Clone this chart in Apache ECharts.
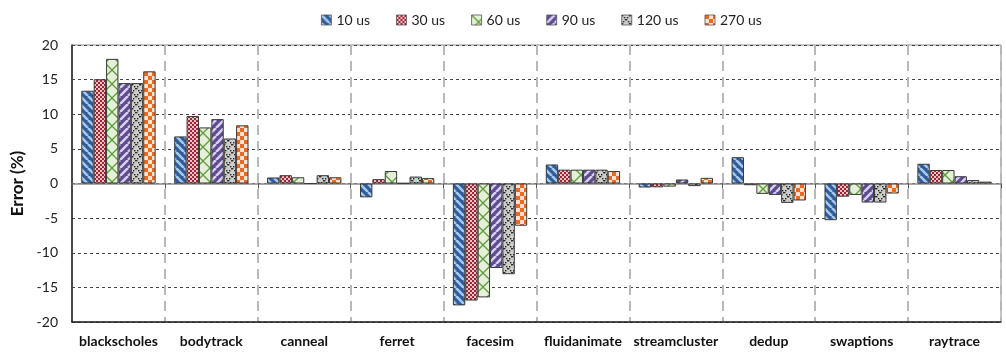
<!DOCTYPE html>
<html>
<head>
<meta charset="utf-8">
<script src="https://cdn.jsdelivr.net/npm/echarts@6/dist/echarts.min.js"></script>
<style>
  html, body { margin: 0; padding: 0; background: #fff; }
  #chart { width: 1006px; height: 352px; }
</style>
</head>
<body>
<div id="chart"></div>
<script>
// Benchmarks on the x axis
const categories = ['blackscholes', 'bodytrack', 'canneal', 'ferret', 'facesim',
  'fluidanimate', 'streamcluster', 'dedup', 'swaptions', 'raytrace'];

// Error (%) per sampling interval
const err10us  = [13.4, 6.8, 0.87, -2.0, -17.6, 2.75, -0.58, 3.8, -5.3, 2.85];
const err30us  = [15.05, 9.75, 1.2, 0.63, -16.9, 2.0, -0.55, -0.25, -1.9, 1.95];
const err60us  = [18.0, 8.1, 0.9, 1.8, -16.45, 2.0, -0.45, -1.5, -1.65, 1.95];
const err90us  = [14.5, 9.3, 0.0, 0.05, -12.2, 2.0, 0.58, -1.65, -2.75, 1.05];
const err120us = [14.5, 6.5, 1.2, 1.0, -13.1, 2.0, -0.38, -2.8, -2.75, 0.5];
const err270us = [16.2, 8.4, 0.9, 0.78, -6.1, 1.8, 0.82, -2.45, -1.45, 0.27];

const seriesNames = ['10 us', '30 us', '60 us', '90 us', '120 us', '270 us'];
const seriesData = [err10us, err30us, err60us, err90us, err120us, err270us];

// Y axis range
const yMin = -20, yMax = 20, yStep = 5;

// Fill patterns for each series, drawn on small tiles
function tile(size, draw) {
  const c = document.createElement('canvas');
  c.width = size; c.height = size;
  const ctx = c.getContext('2d');
  draw(ctx, size);
  return { image: c, repeat: 'repeat' };
}
function stripes(bg, fg, dir) {
  return tile(8, (ctx, s) => {
    ctx.fillStyle = bg; ctx.fillRect(0, 0, s, s);
    ctx.strokeStyle = fg; ctx.lineWidth = 2.6;
    for (let k = -1; k <= 1; k++) {
      ctx.beginPath();
      if (dir > 0) { ctx.moveTo(k * s, s); ctx.lineTo(k * s + s, 0); }
      else { ctx.moveTo(k * s, 0); ctx.lineTo(k * s + s, s); }
      ctx.stroke();
    }
  });
}
function checker(a, b, cell) {
  return tile(cell * 2, (ctx, s) => {
    ctx.fillStyle = a; ctx.fillRect(0, 0, s, s);
    ctx.fillStyle = b;
    ctx.fillRect(0, 0, cell, cell);
    ctx.fillRect(cell, cell, cell, cell);
  });
}
const patterns = [
  stripes('#2f5d9c', '#a9c8ea', -1),
  tile(4, (ctx, s) => {
    ctx.fillStyle = '#f0c2c6'; ctx.fillRect(0, 0, s, s);
    ctx.fillStyle = '#982834';
    ctx.fillRect(0, 0, 2, 2);
    ctx.fillRect(2, 2, 2, 2);
  }),
  tile(14, (ctx, s) => {
    ctx.fillStyle = '#e4f0d8'; ctx.fillRect(0, 0, s, s);
    ctx.strokeStyle = '#5f9a3c'; ctx.lineWidth = 1.3;
    ctx.beginPath();
    ctx.moveTo(0, 0); ctx.lineTo(s, s);
    ctx.moveTo(0, s); ctx.lineTo(s, 0);
    ctx.stroke();
  }),
  stripes('#5c4b8f', '#d8cfee', 1),
  tile(8, (ctx, s) => {
    ctx.fillStyle = '#cdcdcd'; ctx.fillRect(0, 0, s, s);
    ctx.fillStyle = '#2b2b1e';
    for (let i = 0; i < s; i += 2) {
      ctx.fillRect(i, i, 1.4, 1.4);
      ctx.fillRect(s - 1 - i, i, 1.4, 1.4);
    }
  }),
  checker('#fde3cf', '#ea6a23', 4)
];

const chart = echarts.init(document.getElementById('chart'), null, { renderer: 'canvas' });

const font = 'Lato, "Open Sans", sans-serif';

chart.setOption({
  animation: false,
  textStyle: { fontFamily: font },
  legend: {
    data: seriesNames,
    top: 8,
    left: 316,
    icon: 'rect',
    itemWidth: 10,
    itemHeight: 10,
    itemGap: 26,
    textStyle: { fontSize: 14, color: '#222', fontFamily: font },
    itemStyle: { borderColor: '#555', borderWidth: 0.8 }
  },
  grid: {
    left: 72, right: 5, top: 45, bottom: 30,
    show: true, borderColor: '#8a8a8a', borderWidth: 1,
    containLabel: false
  },
  xAxis: [
    {
      type: 'category',
      data: categories,
      position: 'bottom',
      axisLine: { onZero: false, lineStyle: { color: '#222', width: 1.5 } },
      axisTick: { show: false },
      axisLabel: { fontSize: 14, fontWeight: 'bold', color: '#111', margin: 12, fontFamily: font, interval: 0 },
      splitLine: { show: true, lineStyle: { color: '#b8b8b8', width: 2, type: [10, 6] } }
    },
    {
      type: 'category',
      data: categories,
      position: 'top',
      axisLine: { onZero: true, lineStyle: { color: '#8a8a8a', width: 1.5 } },
      axisTick: { show: true, inside: true, length: 5, lineStyle: { color: '#555', width: 1 } },
      axisLabel: { show: false },
      splitLine: { show: false }
    }
  ],
  yAxis: {
    type: 'value',
    min: yMin, max: yMax, interval: yStep,
    name: 'Error (%)',
    nameLocation: 'middle',
    nameGap: 44,
    nameTextStyle: { fontSize: 17, fontWeight: 'bold', color: '#111', fontFamily: font },
    axisLine: { show: true, lineStyle: { color: '#222', width: 1.5 } },
    axisTick: { show: false },
    axisLabel: { fontSize: 14, color: '#222', margin: 14, fontFamily: font },
    splitLine: { show: true, lineStyle: { color: '#444', width: 1, type: [3, 3] } }
  },
  series: seriesNames.map((name, i) => ({
    name: name,
    type: 'bar',
    xAxisIndex: 0,
    data: seriesData[i],
    barGap: '0%',
    barCategoryGap: '20%',
    itemStyle: {
      color: patterns[i],
      borderColor: '#3a3a3a',
      borderWidth: 1
    }
  }))
});
</script>
</body>
</html>
